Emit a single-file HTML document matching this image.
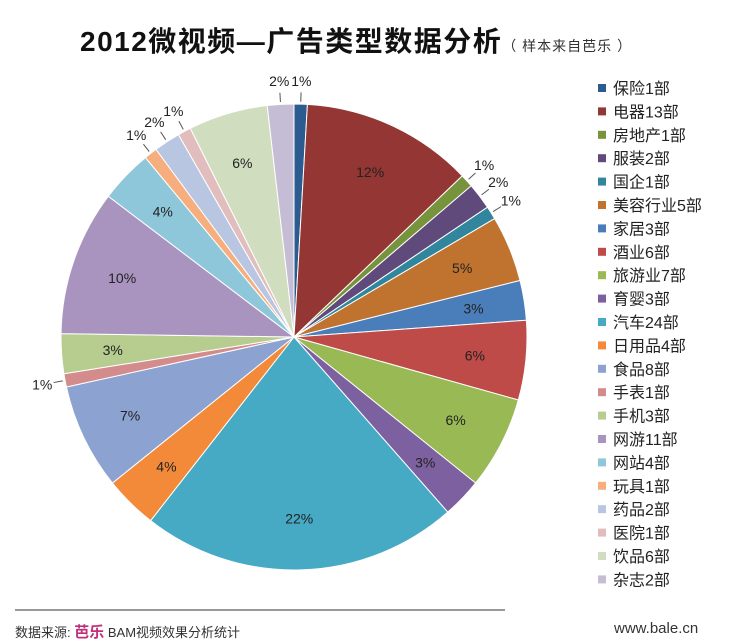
<!DOCTYPE html>
<html><head><meta charset="utf-8"><style>
body{margin:0;width:744px;height:644px;background:#fff;font-family:"Liberation Sans","Noto Sans CJK SC",sans-serif;overflow:hidden;position:relative}
#title{position:absolute;left:80px;top:20px;font-size:28px;font-weight:bold;color:#111;white-space:nowrap;letter-spacing:1.5px}
#title span{font-size:14px;font-weight:normal;color:#333;letter-spacing:1px}
#footer-line{position:absolute;left:15px;top:609px;width:490px;height:2px;background:#999}
#src{position:absolute;left:15px;top:621px;font-size:13px;color:#333}
#src b{color:#c0307a;font-size:15px}
#url{position:absolute;left:614px;top:620px;font-size:15px;color:#333}
</style></head><body>
<div id="title">2012微视频—广告类型数据分析<span>（ 样本来自芭乐 ）</span></div>
<svg id="chart" width="744" height="644" style="position:absolute;left:0;top:0"></svg>
<div id="footer-line"></div>
<div id="src">数据来源: <b>芭乐</b> BAM视频效果分析统计</div>
<div id="url">www.bale.cn</div>
<script>
const categories=["保险","电器","房地产","服装","国企","美容行业","家居","酒业","旅游业","育婴","汽车","日用品","食品","手表","手机","网游","网站","玩具","药品","医院","饮品","杂志"];
const values=[1,13,1,2,1,5,3,6,7,3,24,4,8,1,3,11,4,1,2,1,6,2];
const colors=["#2C5C8F","#943634","#77933C","#604A7B","#31859C","#C0732F","#4A7EBB","#BE4B48","#98B954","#7D60A0","#46AAC5","#F38A3A","#8CA2D0","#D38C8B","#B6CD8F","#A994C0","#8FC7DA","#F7AE7E","#B9C6E2","#E2BDBD","#D0DDBF","#C5BDD6"];
const NS="http://www.w3.org/2000/svg";
const svg=document.getElementById('chart');
const cx=294,cy=337,R=233;
const total=values.reduce((a,b)=>a+b,0);
function pt(a,r){return [cx+r*Math.sin(a),cy-r*Math.cos(a)];}
let acc=0;
values.forEach((v,i)=>{
  const a0=acc/total*2*Math.PI;acc+=v;const a1=acc/total*2*Math.PI;
  const p0=pt(a0,R),p1=pt(a1,R);
  const path=document.createElementNS(NS,'path');
  path.setAttribute('d',`M${cx},${cy}L${p0[0]},${p0[1]}A${R},${R} 0 ${a1-a0>Math.PI?1:0} 1 ${p1[0]},${p1[1]}Z`);
  path.setAttribute('fill',colors[i]);path.setAttribute('stroke','#fff');path.setAttribute('stroke-width','1');
  
  
  svg.appendChild(path);
  const am=(a0+a1)/2;const small=v<3;
  const lp=pt(am,small?R*1.1:R*0.78);
  if(small){
    const e=pt(am,R*1.01),m=pt(am,R*1.05);
    const l=document.createElementNS(NS,'polyline');
    l.setAttribute('points',`${e[0]},${e[1]} ${m[0]},${m[1]}`);
    l.setAttribute('stroke','#555');l.setAttribute('fill','none');
    
    
    svg.appendChild(l);
  }
  const t=document.createElementNS(NS,'text');
  t.setAttribute('x',lp[0]);t.setAttribute('y',lp[1]+5);t.setAttribute('text-anchor','middle');
  t.setAttribute('font-size','14');t.setAttribute('fill','#222');
  t.textContent=Math.round(v/total*100)+'%';
  
  
  svg.appendChild(t);
});
categories.forEach((c,i)=>{
  const y=88+i*23.4;
  const r=document.createElementNS(NS,'rect');
  r.setAttribute('x',598);r.setAttribute('y',y-4);r.setAttribute('width',8);r.setAttribute('height',8);r.setAttribute('fill',colors[i]);
  
  
  svg.appendChild(r);
  const t=document.createElementNS(NS,'text');
  t.setAttribute('x',613);t.setAttribute('y',y+6);t.setAttribute('font-size','16');t.setAttribute('fill','#222');
  t.textContent=c+values[i]+'部';
  
  
  svg.appendChild(t);
});
</script>
</body></html>
